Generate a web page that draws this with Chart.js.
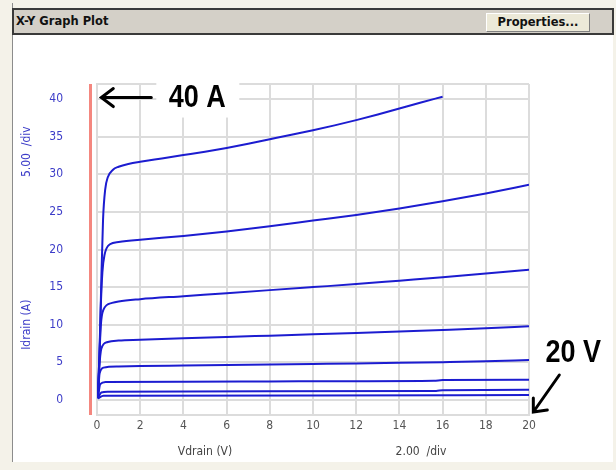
<!DOCTYPE html>
<html lang="en">

<head>
  <meta charset="UTF-8">
  <title>X-Y Graph Plot</title>
  <script src="https://cdn.jsdelivr.net/npm/chart.js"></script>
  <style>
    body {
      margin: 0;
      width: 616px;
      height: 470px;
      background: #f4f2e9;
      position: relative;
      overflow: hidden;
      font-family: 'DejaVu Sans', sans-serif;
    }

    .linha-esq {
      position: absolute;
      left: 12px;
      top: 3px;
      width: 1px;
      height: 459px;
      background: #8c8c8c;
    }

    .conteudo {
      position: absolute;
      left: 13px;
      top: 35px;
      width: 600px;
      height: 427px;
      background: #fff;
    }

    .barra {
      position: absolute;
      left: 12px;
      top: 8px;
      width: 598px;
      height: 23px;
      background: #d4d0c8;
      border: 2px solid #3a3a3a;
    }

    .barra span {
      position: absolute;
      left: 2px;
      top: 4px;
      font-size: 11.5px;
      font-weight: bold;
      color: #111;
    }

    .botao {
      position: absolute;
      left: 472px;
      top: 3px;
      width: 102px;
      height: 17px;
      background: #ece9d8;
      border-top: 1px solid #fff;
      border-left: 1px solid #fff;
      border-right: 1px solid #808080;
      border-bottom: 1px solid #808080;
      font-size: 11.5px;
      font-weight: bold;
      text-align: center;
      line-height: 17px;
      color: #111;
    }

    #graficoIV {
      position: absolute;
      left: 14px;
      top: 36px;
    }
  </style>
</head>

<body>
  <div class="linha-esq"></div>
  <div class="conteudo"></div>
  <div class="barra">
    <span>X-Y Graph Plot</span>
    <div class="botao">Properties...</div>
  </div>
  <canvas id="graficoIV" width="598" height="424"></canvas>

  <script>
    // Eixos
    var xTicks = [0, 2, 4, 6, 8, 10, 12, 14, 16, 18, 20];
    var yTicks = [0, 5, 10, 15, 20, 25, 30, 35, 40];
    var yMin = -2;
    var yMax = 42;

    // Curvas Idrain x Vdrain, [Vdrain, Idrain] (de cima para baixo)
    var curva1 = [[0.04, 0.3], [0.12, 6], [0.2, 16], [0.28, 24], [0.38, 28], [0.5, 29.6], [0.74, 30.6], [1, 31.0], [1.5, 31.4], [2, 31.65], [3, 32.1], [4, 32.55], [5, 33.0], [6, 33.5], [7, 34.05], [8, 34.65], [9, 35.25], [10, 35.85], [11, 36.5], [12, 37.2], [13, 37.95], [14, 38.75], [15, 39.55], [16, 40.3]];
    var curva2 = [[0.04, 0.3], [0.1, 5], [0.17, 12], [0.25, 17], [0.35, 19.3], [0.6, 20.7], [1, 21.0], [2, 21.3], [4, 21.8], [6, 22.4], [8, 23.1], [10, 23.85], [12, 24.6], [14, 25.45], [16, 26.4], [18, 27.45], [20, 28.6]];
    var curva3 = [[0.04, 0.3], [0.1, 5], [0.18, 10], [0.3, 12], [0.7, 12.9], [1, 13.1], [2, 13.4], [4, 13.8], [6, 14.2], [8, 14.6], [10, 15.0], [12, 15.4], [14, 15.85], [16, 16.3], [18, 16.8], [20, 17.3]];
    var curva4 = [[0.04, 0.3], [0.1, 4], [0.2, 6.8], [0.5, 7.7], [1, 7.9], [2, 8.0], [4, 8.2], [6, 8.38], [8, 8.55], [10, 8.72], [12, 8.9], [14, 9.1], [16, 9.3], [18, 9.52], [20, 9.8]];
    var curva5 = [[0.04, 0.3], [0.12, 3.5], [0.3, 4.3], [1, 4.45], [2, 4.5], [4, 4.57], [6, 4.64], [8, 4.71], [10, 4.78], [12, 4.85], [14, 4.93], [16, 5.02], [18, 5.13], [20, 5.3]];
    var curva6 = [[0.04, 0.2], [0.15, 2.1], [0.4, 2.4], [4, 2.42], [8, 2.46], [12, 2.5], [15.6, 2.55], [16, 2.65], [20, 2.7]];
    var curva7 = [[0.04, 0.2], [0.2, 1.0], [0.5, 1.1], [8, 1.15], [15.7, 1.2], [16, 1.3], [20, 1.35]];
    var curva8 = [[0.04, 0.2], [0.3, 0.55], [10, 0.6], [20, 0.65]];

    var curvas = [curva1, curva2, curva3, curva4, curva5, curva6, curva7, curva8];

    var fonteEstreita = "'Liberation Sans Narrow', 'DejaVu Sans Condensed', sans-serif";
    var corGrade = '#dcdcdc';

    // Textos, linha vermelha e setas desenhados sobre o gráfico
    var anotacoes = {
      id: 'anotacoes',
      afterDraw: function (chart) {
        var c = chart.ctx;
        var area = chart.chartArea;
        var sx = chart.scales.x;
        var sy = chart.scales.y;
        c.save();

        // linha vermelha à esquerda da área
        c.strokeStyle = '#f4877f';
        c.lineWidth = 3;
        c.beginPath();
        c.moveTo(area.left - 6.5, area.top);
        c.lineTo(area.left - 6.5, area.bottom);
        c.stroke();

        // títulos dos eixos
        c.font = '12px ' + fonteEstreita;
        c.textAlign = 'center';
        c.textBaseline = 'middle';
        c.fillStyle = '#444';
        c.fillText('Vdrain (V)', sx.getPixelForValue(5), area.bottom + 37);
        c.fillText('2.00  /div', sx.getPixelForValue(15), area.bottom + 37);
        c.fillStyle = '#3c3cc8';
        var ladosY = [['5.00  /div', 33], ['Idrain (A)', 10]];
        for (var i = 0; i < ladosY.length; i++) {
          c.save();
          c.translate(13, sy.getPixelForValue(ladosY[i][1]));
          c.rotate(-Math.PI / 2);
          c.fillText(ladosY[i][0], 0, 0);
          c.restore();
        }

        // "40 A"
        var yA = sy.getPixelForValue(40.2);
        var xA = sx.getPixelForValue(0.2);
        c.fillStyle = '#fff';
        c.fillRect(xA + 55, yA - 18, 83, 38);
        c.strokeStyle = '#000';
        c.lineWidth = 3;
        c.lineCap = 'round';
        c.beginPath();
        c.moveTo(xA + 50, yA);
        c.lineTo(xA, yA);
        c.moveTo(xA + 12, yA - 9);
        c.lineTo(xA, yA);
        c.lineTo(xA + 12, yA + 9);
        c.stroke();

        c.fillStyle = '#000';
        c.font = 'bold 30px "Liberation Sans", sans-serif';
        c.save();
        c.translate(xA + 96, yA + 1);
        c.scale(0.9, 1.05);
        c.fillText('40 A', 0, 0);
        c.restore();

        // "20 V"
        var xV = sx.getPixelForValue(20.2);
        var yV = sy.getPixelForValue(-1.6);
        c.beginPath();
        c.moveTo(xV + 26, yV - 37);
        c.lineTo(xV, yV);
        c.moveTo(xV, yV - 14);
        c.lineTo(xV, yV);
        c.lineTo(xV + 14, yV - 2);
        c.stroke();
        c.save();
        c.translate(xV + 40, yV - 59);
        c.scale(0.9, 1.05);
        c.fillText('20 V', 0, 0);
        c.restore();

        c.restore();
      }
    };

    var datasets = [];
    for (var i = 0; i < curvas.length; i++) {
      var pontos = [];
      for (var j = 0; j < curvas[i].length; j++) {
        pontos.push({ x: curvas[i][j][0], y: curvas[i][j][1] });
      }
      datasets.push({
        data: pontos,
        borderColor: '#1c1cd0',
        borderWidth: 2,
        pointRadius: 0,
        fill: false,
        cubicInterpolationMode: 'monotone'
      });
    }

    var ctx = document.getElementById('graficoIV').getContext('2d');
    var myChart = new Chart(ctx, {
      type: 'line',
      data: { datasets: datasets },
      options: {
        responsive: false,
        animation: false,
        layout: { padding: { top: 48, right: 83, left: 0, bottom: 0 } },
        plugins: {
          legend: { display: false },
          tooltip: { enabled: false }
        },
        scales: {
          x: {
            type: 'linear',
            min: xTicks[0],
            max: xTicks[xTicks.length - 1],
            afterBuildTicks: function (s) {
              s.ticks = xTicks.map(function (v) { return { value: v }; });
            },
            afterFit: function (s) { s.height = 45; },
            ticks: {
              padding: 4,
              maxRotation: 0,
              color: '#555',
              font: { family: fonteEstreita, size: 12 }
            },
            grid: { color: corGrade, lineWidth: 2, drawTicks: false },
            border: { color: corGrade, width: 2 }
          },
          y: {
            type: 'linear',
            min: yMin,
            max: yMax,
            afterBuildTicks: function (s) {
              s.ticks = [yMin].concat(yTicks).concat([yMax]).map(function (v) { return { value: v }; });
            },
            afterFit: function (s) { s.width = 83; },
            ticks: {
              padding: 34,
              color: '#3c3cc8',
              font: { family: fonteEstreita, size: 12 },
              callback: function (v) { return yTicks.indexOf(v) >= 0 ? v : ''; }
            },
            grid: { color: corGrade, lineWidth: 2, drawTicks: false },
            border: { color: corGrade, width: 2 }
          }
        }
      },
      plugins: [anotacoes]
    });
  </script>
</body>

</html>
